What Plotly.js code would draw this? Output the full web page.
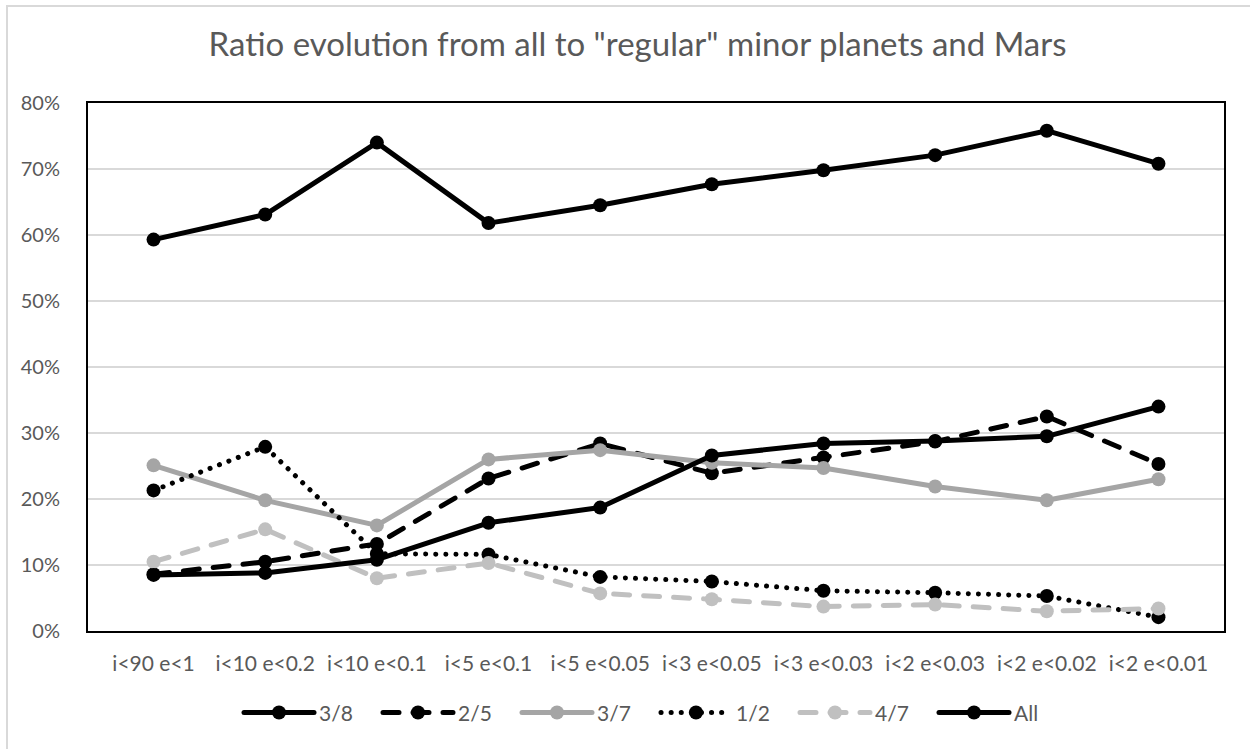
<!DOCTYPE html>
<html>
<head>
<meta charset="utf-8">
<script src="https://cdn.plot.ly/plotly-3.0.1.min.js"></script>
<style>
  html, body { margin: 0; padding: 0; background: #fff; }
  #wrap { position: relative; width: 1250px; height: 749px; }
  #chart { width: 1250px; height: 749px; }
  #frame { position: absolute; left: 6px; top: 5px; width: 1244px; height: 744px;
           border: 2px solid #d9d9d9; border-right: none; border-bottom: none;
           box-sizing: border-box; pointer-events: none; }
  .js-line { stroke-linecap: round; stroke-linejoin: round; }
</style>
</head>
<body>
<div id="wrap">
  <div id="chart"></div>
  <div id="frame"></div>
</div>
<script>
const categories = ["i<90 e<1", "i<10 e<0.2", "i<10 e<0.1", "i<5 e<0.1", "i<5 e<0.05",
                    "i<3 e<0.05", "i<3 e<0.03", "i<2 e<0.03", "i<2 e<0.02", "i<2 e<0.01"];
const seriesNames = ["3/8", "2/5", "3/7", "1/2", "4/7", "All"];
const r38  = [59.3, 63.1, 74.0, 61.8, 64.5, 67.7, 69.8, 72.1, 75.8, 70.8];
const r25  = [8.6, 10.5, 13.2, 23.1, 28.4, 23.9, 26.3, 28.7, 32.5, 25.3];
const r37  = [25.1, 19.8, 16.0, 26.0, 27.4, 25.5, 24.7, 21.9, 19.8, 23.0];
const r12  = [21.3, 27.9, 11.7, 11.6, 8.2, 7.5, 6.1, 5.8, 5.3, 2.1];
const r47  = [10.5, 15.4, 8.0, 10.3, 5.7, 4.8, 3.7, 4.0, 3.0, 3.4];
const rAll = [8.5, 8.8, 10.8, 16.4, 18.7, 26.6, 28.4, 28.8, 29.5, 34.0];
const yTickVals = [0, 10, 20, 30, 40, 50, 60, 70, 80];
const yTickText = ["0%", "10%", "20%", "30%", "40%", "50%", "60%", "70%", "80%"];

const values = [r38, r25, r37, r12, r47, rAll];
const colors = ["#000000", "#000000", "#a5a5a5", "#000000", "#c0c0c0", "#000000"];
const dashes = ["solid", "16px,14px", "solid", "0.1px,10px", "16px,14px", "solid"];

const traces = values.map((v, i) => ({
  type: "scatter",
  mode: "lines+markers",
  name: seriesNames[i],
  x: categories,
  y: v,
  line: { color: colors[i], width: 5, dash: dashes[i] },
  marker: { color: colors[i], size: 14, symbol: "circle" }
}));

const font = "Lato, 'Open Sans', sans-serif";
const layout = {
  width: 1250, height: 749,
  margin: { l: 88, r: 26, t: 103, b: 118 },
  paper_bgcolor: "#ffffff",
  plot_bgcolor: "#ffffff",
  title: {
    text: 'Ratio evolution from all to "regular" minor planets and Mars',
    font: { family: font, size: 33, color: "#595959" },
    x: 0.51, xref: "container", xanchor: "center",
    y: 0.94, yref: "container", yanchor: "middle"
  },
  xaxis: {
    type: "category",
    tickfont: { family: font, size: 21, color: "#595959" },
    showgrid: false, zeroline: false,
    showline: true, linecolor: "#000000", linewidth: 2, mirror: true,
    ticks: "", ticklabelstandoff: 13
  },
  yaxis: {
    range: [0, 80],
    tickmode: "array",
    tickvals: yTickVals,
    ticktext: yTickText,
    tickfont: { family: font, size: 20, color: "#595959" },
    showgrid: true, gridcolor: "#d9d9d9", gridwidth: 1.5,
    zeroline: false,
    showline: true, linecolor: "#000000", linewidth: 2, mirror: true,
    ticks: "", ticklabelstandoff: 22
  },
  showlegend: true,
  legend: {
    orientation: "h",
    x: 0.5, xanchor: "center",
    y: -0.155, yanchor: "middle",
    font: { family: font, size: 21, color: "#595959" },
    entrywidth: 54, entrywidthmode: "pixels",
    itemwidth: 70,
    bgcolor: "rgba(0,0,0,0)"
  }
};

Plotly.newPlot("chart", traces, layout, { displayModeBar: false, staticPlot: true });
</script>
</body>
</html>
